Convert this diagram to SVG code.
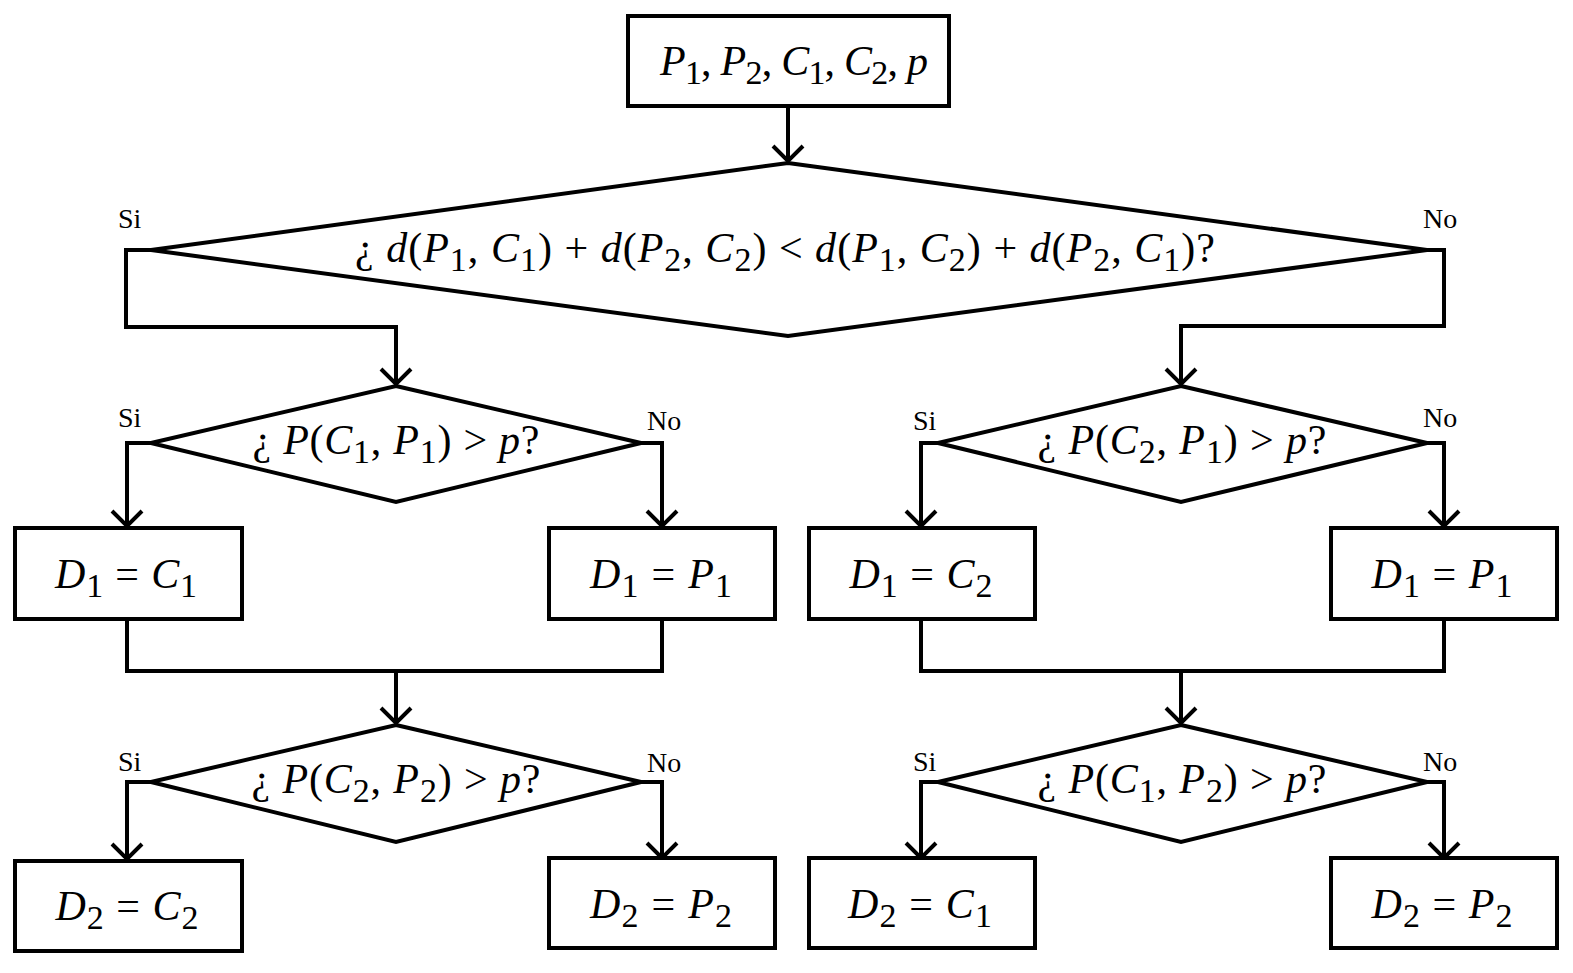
<svg xmlns="http://www.w3.org/2000/svg" width="1573" height="973" viewBox="0 0 1573 973">
<style>
.sh{fill:#fff;stroke:#000;stroke-width:4}
.ln{fill:none;stroke:#000;stroke-width:4}
.m{font-family:"Liberation Serif","DejaVu Serif",serif;text-anchor:middle;fill:#000;font-size:42px}
.i{font-style:italic}
.s{font-size:34px}
.lb{font-family:"Liberation Serif","Times New Roman",serif;font-size:28px;fill:#000}
</style>
<defs>
<marker id="ar" markerUnits="userSpaceOnUse" markerWidth="40" markerHeight="40" refX="20" refY="20" orient="auto" viewBox="0 0 40 40">
<path d="M5,5 L20,20 L5,35" fill="none" stroke="#000" stroke-width="4"/>
</marker>
</defs>
<rect width="1573" height="973" fill="#fff"/>
<g id="connectors">
<path class="ln" d="M788,106 V161" marker-end="url(#ar)"/>
<path class="ln" d="M151,250 H126 V327 H396 V384" marker-end="url(#ar)"/>
<path class="ln" d="M1427,250 H1444 V326 H1181 V384" marker-end="url(#ar)"/>
<path class="ln" d="M151,443 H127 V526" marker-end="url(#ar)"/>
<path class="ln" d="M641,443 H662 V526" marker-end="url(#ar)"/>
<path class="ln" d="M127,619 V671 H662 V619"/>
<path class="ln" d="M396,671 V723" marker-end="url(#ar)"/>
<path class="ln" d="M151,782 H127 V859" marker-end="url(#ar)"/>
<path class="ln" d="M641,782 H662 V858" marker-end="url(#ar)"/>
<path class="ln" d="M938,443 H921 V526" marker-end="url(#ar)"/>
<path class="ln" d="M1427,443 H1444 V526" marker-end="url(#ar)"/>
<path class="ln" d="M921,619 V671 H1444 V619"/>
<path class="ln" d="M1181,671 V723" marker-end="url(#ar)"/>
<path class="ln" d="M938,782 H921 V858" marker-end="url(#ar)"/>
<path class="ln" d="M1427,782 H1444 V858" marker-end="url(#ar)"/>
<text class="lb" x="118" y="228">Si</text>
<text class="lb" x="1423" y="228">No</text>
<text class="lb" x="118" y="427">Si</text>
<text class="lb" x="647" y="430">No</text>
<text class="lb" x="913" y="430">Si</text>
<text class="lb" x="1423" y="427">No</text>
<text class="lb" x="118" y="771">Si</text>
<text class="lb" x="647" y="772">No</text>
<text class="lb" x="913" y="771">Si</text>
<text class="lb" x="1423" y="771">No</text>
</g>
<g id="start">
<rect class="sh" x="628" y="16" width="321" height="90"/>
<text class="m" x="794" y="75" textLength="268" lengthAdjust="spacing"><tspan class="i">P</tspan><tspan class="s" dy="9">1</tspan><tspan dy="-9">,  </tspan><tspan class="i">P</tspan><tspan class="s" dy="9">2</tspan><tspan dy="-9">, </tspan><tspan class="i">C</tspan><tspan class="s" dy="9">1</tspan><tspan dy="-9">, </tspan><tspan class="i">C</tspan><tspan class="s" dy="9">2</tspan><tspan dy="-9">, </tspan><tspan class="i">p</tspan></text>
</g>
<g id="q0">
<polygon class="sh" points="788,163 1427,250 788,336 151,250"/>
<text class="m" x="785" y="262" textLength="860" lengthAdjust="spacing">¿ <tspan class="i">d</tspan>(<tspan class="i">P</tspan><tspan class="s" dy="9">1</tspan><tspan dy="-9">, </tspan><tspan class="i">C</tspan><tspan class="s" dy="9">1</tspan><tspan dy="-9">) + </tspan><tspan class="i">d</tspan>(<tspan class="i">P</tspan><tspan class="s" dy="9">2</tspan><tspan dy="-9">, </tspan><tspan class="i">C</tspan><tspan class="s" dy="9">2</tspan><tspan dy="-9">) &lt; </tspan><tspan class="i">d</tspan>(<tspan class="i">P</tspan><tspan class="s" dy="9">1</tspan><tspan dy="-9">, </tspan><tspan class="i">C</tspan><tspan class="s" dy="9">2</tspan><tspan dy="-9">) + </tspan><tspan class="i">d</tspan>(<tspan class="i">P</tspan><tspan class="s" dy="9">2</tspan><tspan dy="-9">, </tspan><tspan class="i">C</tspan><tspan class="s" dy="9">1</tspan><tspan dy="-9">)?</tspan></text>
</g>
<g id="qL1">
<polygon class="sh" points="396,386 641,443 396,502 151,443"/>
<text class="m" x="396" y="454" textLength="287" lengthAdjust="spacing">¿ <tspan class="i">P</tspan>(<tspan class="i">C</tspan><tspan class="s" dy="9">1</tspan><tspan dy="-9">, </tspan><tspan class="i">P</tspan><tspan class="s" dy="9">1</tspan><tspan dy="-9">) &gt; </tspan><tspan class="i">p</tspan>?</text>
</g>
<g id="qR1">
<polygon class="sh" points="1181,386 1427,443 1181,502 938,443"/>
<text class="m" x="1182" y="454" textLength="289" lengthAdjust="spacing">¿ <tspan class="i">P</tspan>(<tspan class="i">C</tspan><tspan class="s" dy="9">2</tspan><tspan dy="-9">, </tspan><tspan class="i">P</tspan><tspan class="s" dy="9">1</tspan><tspan dy="-9">) &gt; </tspan><tspan class="i">p</tspan>?</text>
</g>
<g id="bL1a">
<rect class="sh" x="15" y="528" width="227" height="91"/>
<text class="m" x="126" y="588" textLength="142" lengthAdjust="spacing"><tspan class="i">D</tspan><tspan class="s" dy="9">1</tspan><tspan dy="-9"> = </tspan><tspan class="i">C</tspan><tspan class="s" dy="9">1</tspan></text>
</g>
<g id="bL1b">
<rect class="sh" x="549" y="528" width="226" height="91"/>
<text class="m" x="661" y="588" textLength="142" lengthAdjust="spacing"><tspan class="i">D</tspan><tspan class="s" dy="9">1</tspan><tspan dy="-9"> = </tspan><tspan class="i">P</tspan><tspan class="s" dy="9">1</tspan></text>
</g>
<g id="bR1a">
<rect class="sh" x="809" y="528" width="226" height="91"/>
<text class="m" x="921" y="588" textLength="143" lengthAdjust="spacing"><tspan class="i">D</tspan><tspan class="s" dy="9">1</tspan><tspan dy="-9"> = </tspan><tspan class="i">C</tspan><tspan class="s" dy="9">2</tspan></text>
</g>
<g id="bR1b">
<rect class="sh" x="1331" y="528" width="226" height="91"/>
<text class="m" x="1442" y="588" textLength="141" lengthAdjust="spacing"><tspan class="i">D</tspan><tspan class="s" dy="9">1</tspan><tspan dy="-9"> = </tspan><tspan class="i">P</tspan><tspan class="s" dy="9">1</tspan></text>
</g>
<g id="qL2">
<polygon class="sh" points="396,725 641,782 396,842 151,782"/>
<text class="m" x="396" y="793" textLength="289" lengthAdjust="spacing">¿ <tspan class="i">P</tspan>(<tspan class="i">C</tspan><tspan class="s" dy="9">2</tspan><tspan dy="-9">, </tspan><tspan class="i">P</tspan><tspan class="s" dy="9">2</tspan><tspan dy="-9">) &gt; </tspan><tspan class="i">p</tspan>?</text>
</g>
<g id="qR2">
<polygon class="sh" points="1181,725 1427,782 1181,842 938,782"/>
<text class="m" x="1182" y="793" textLength="289" lengthAdjust="spacing">¿ <tspan class="i">P</tspan>(<tspan class="i">C</tspan><tspan class="s" dy="9">1</tspan><tspan dy="-9">, </tspan><tspan class="i">P</tspan><tspan class="s" dy="9">2</tspan><tspan dy="-9">) &gt; </tspan><tspan class="i">p</tspan>?</text>
</g>
<g id="bL2a">
<rect class="sh" x="15" y="861" width="227" height="90"/>
<text class="m" x="127" y="920" textLength="143" lengthAdjust="spacing"><tspan class="i">D</tspan><tspan class="s" dy="9">2</tspan><tspan dy="-9"> = </tspan><tspan class="i">C</tspan><tspan class="s" dy="9">2</tspan></text>
</g>
<g id="bL2b">
<rect class="sh" x="549" y="858" width="226" height="90"/>
<text class="m" x="661" y="918" textLength="142" lengthAdjust="spacing"><tspan class="i">D</tspan><tspan class="s" dy="9">2</tspan><tspan dy="-9"> = </tspan><tspan class="i">P</tspan><tspan class="s" dy="9">2</tspan></text>
</g>
<g id="bR2a">
<rect class="sh" x="809" y="858" width="226" height="90"/>
<text class="m" x="920" y="918" textLength="144" lengthAdjust="spacing"><tspan class="i">D</tspan><tspan class="s" dy="9">2</tspan><tspan dy="-9"> = </tspan><tspan class="i">C</tspan><tspan class="s" dy="9">1</tspan></text>
</g>
<g id="bR2b">
<rect class="sh" x="1331" y="858" width="226" height="90"/>
<text class="m" x="1442" y="918" textLength="141" lengthAdjust="spacing"><tspan class="i">D</tspan><tspan class="s" dy="9">2</tspan><tspan dy="-9"> = </tspan><tspan class="i">P</tspan><tspan class="s" dy="9">2</tspan></text>
</g>
</svg>
